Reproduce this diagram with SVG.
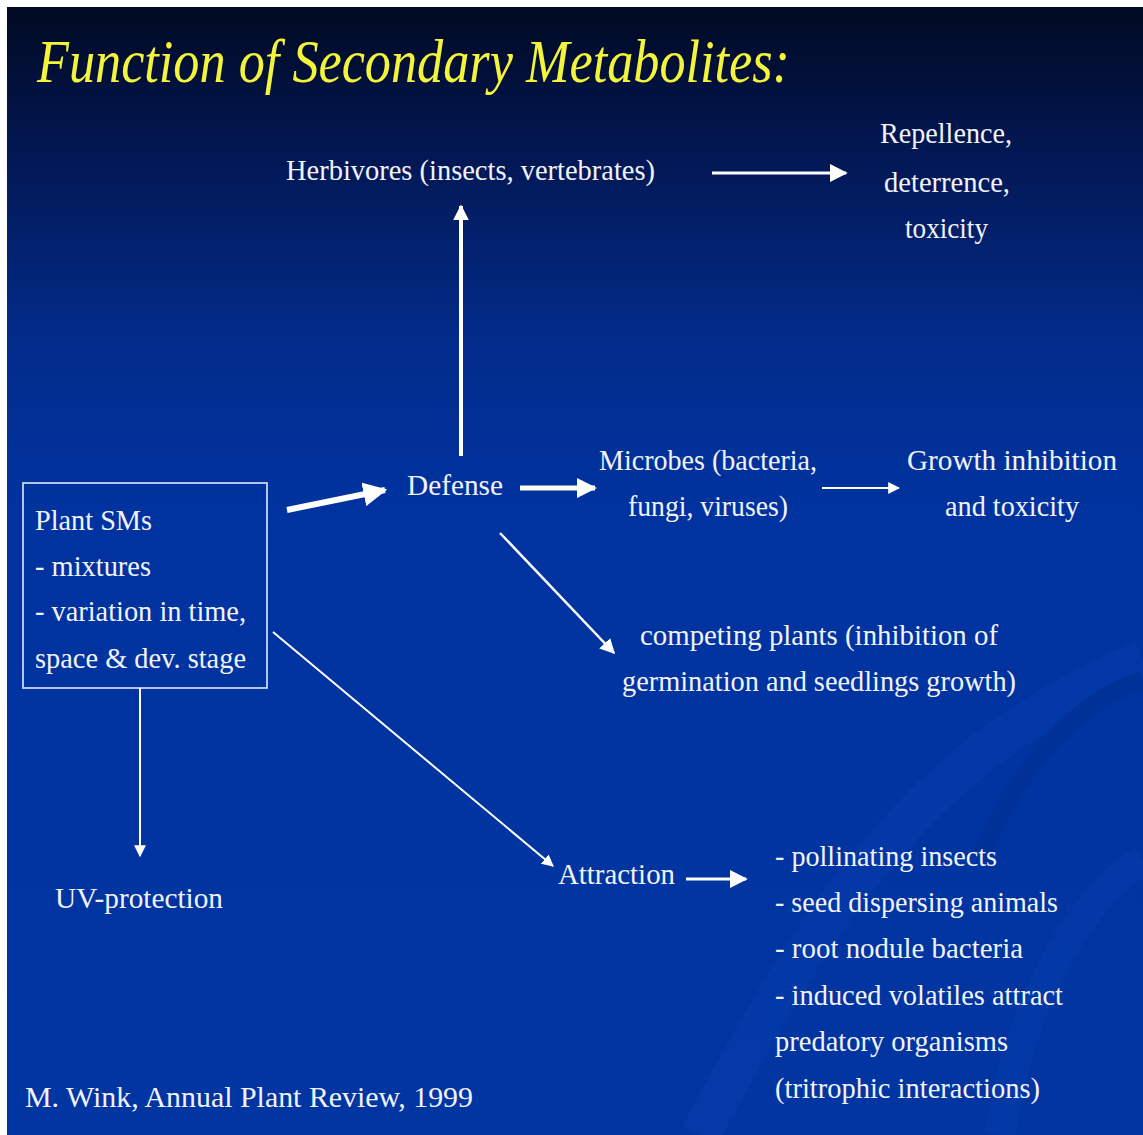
<svg xmlns="http://www.w3.org/2000/svg" width="1143" height="1135" viewBox="0 0 1143 1135">
<defs>
<linearGradient id="bg" x1="0" y1="0" x2="0" y2="1">
<stop offset="0" stop-color="#010a22"/>
<stop offset="0.12" stop-color="#021650"/>
<stop offset="0.3" stop-color="#022c8c"/>
<stop offset="0.45" stop-color="#0033a0"/>
<stop offset="1" stop-color="#0035a2"/>
</linearGradient>
<marker id="ah" viewBox="0 0 10 10" refX="9" refY="5" markerWidth="4" markerHeight="4" orient="auto" markerUnits="strokeWidth">
<path d="M0,0 L10,5 L0,10 z" fill="#ffffff"/>
</marker>
<marker id="ahs" viewBox="0 0 10 10" refX="9" refY="5" markerWidth="6" markerHeight="6" orient="auto" markerUnits="strokeWidth">
<path d="M0,0 L10,5 L0,10 z" fill="#ffffff"/>
</marker>
</defs>
<style>
.t{font-family:"Liberation Serif",serif;font-size:30px;fill:#f2f2fa;}
.c{fill:none;stroke:#ffffff;stroke-linecap:butt;}
</style>
<rect x="0" y="0" width="1143" height="1135" fill="#ffffff"/>
<rect x="7" y="7" width="1136" height="1128" fill="url(#bg)"/>
<g opacity="0.15" fill="none">
<path d="M700,1135 C800,950 900,760 1143,660" stroke="#1a4fc8" stroke-width="40"/>
<path d="M980,860 C1020,760 1080,700 1143,680" stroke="#00226e" stroke-width="18"/>
<path d="M1000,1135 C1020,1000 1080,900 1143,860" stroke="#1a4fc8" stroke-width="30"/>
</g>
<text x="37" y="82" font-family="'Liberation Serif',serif" font-style="italic" font-size="62" fill="#f4f43a" textLength="753" lengthAdjust="spacingAndGlyphs">Function of Secondary Metabolites:</text>
<g id="plant">
<rect x="23" y="483" width="244" height="205" fill="none" stroke="#c8d4f0" stroke-width="1.8"/>
<text class="t" x="35" y="530" textLength="117" lengthAdjust="spacingAndGlyphs">Plant SMs</text>
<text class="t" x="35" y="576" textLength="116" lengthAdjust="spacingAndGlyphs">- mixtures</text>
<text class="t" x="35" y="621" textLength="211" lengthAdjust="spacingAndGlyphs">- variation in time,</text>
<text class="t" x="35" y="668" textLength="211" lengthAdjust="spacingAndGlyphs">space &amp; dev. stage</text>
</g>
<g id="herbivores"><text class="t" x="286" y="180" textLength="369" lengthAdjust="spacingAndGlyphs">Herbivores (insects, vertebrates)</text></g>
<g id="repellence">
<text class="t" x="880" y="143" textLength="132" lengthAdjust="spacingAndGlyphs">Repellence,</text>
<text class="t" x="884" y="192" textLength="126" lengthAdjust="spacingAndGlyphs">deterrence,</text>
<text class="t" x="905" y="238" textLength="83" lengthAdjust="spacingAndGlyphs">toxicity</text>
</g>
<g id="defense"><text class="t" x="407" y="495" textLength="96" lengthAdjust="spacingAndGlyphs">Defense</text></g>
<g id="microbes">
<text class="t" x="599" y="470" textLength="218" lengthAdjust="spacingAndGlyphs">Microbes (bacteria,</text>
<text class="t" x="628" y="516" textLength="160" lengthAdjust="spacingAndGlyphs">fungi, viruses)</text>
</g>
<g id="growth">
<text class="t" x="907" y="470" textLength="210" lengthAdjust="spacingAndGlyphs">Growth inhibition</text>
<text class="t" x="945" y="516" textLength="134" lengthAdjust="spacingAndGlyphs">and toxicity</text>
</g>
<g id="competing">
<text class="t" x="640" y="645" textLength="358" lengthAdjust="spacingAndGlyphs">competing plants (inhibition of</text>
<text class="t" x="622" y="691" textLength="394" lengthAdjust="spacingAndGlyphs">germination and seedlings growth)</text>
</g>
<g id="attraction"><text class="t" x="558" y="884" textLength="117" lengthAdjust="spacingAndGlyphs">Attraction</text></g>
<g id="uv"><text class="t" x="55" y="908" textLength="168" lengthAdjust="spacingAndGlyphs">UV-protection</text></g>
<g id="attracted">
<text class="t" x="775" y="866" textLength="222" lengthAdjust="spacingAndGlyphs">- pollinating insects</text>
<text class="t" x="775" y="912" textLength="283" lengthAdjust="spacingAndGlyphs">- seed dispersing animals</text>
<text class="t" x="775" y="958" textLength="248" lengthAdjust="spacingAndGlyphs">- root nodule bacteria</text>
<text class="t" x="775" y="1005" textLength="288" lengthAdjust="spacingAndGlyphs">- induced volatiles attract</text>
<text class="t" x="775" y="1051" textLength="233" lengthAdjust="spacingAndGlyphs">predatory organisms</text>
<text class="t" x="775" y="1098" textLength="265" lengthAdjust="spacingAndGlyphs">(tritrophic interactions)</text>
</g>
<g id="citation"><text x="25" y="1107" font-family="'Liberation Serif',serif" font-size="30" fill="#f2f2fa" textLength="448" lengthAdjust="spacingAndGlyphs">M. Wink, Annual Plant Review, 1999</text></g>
<g id="connectors">
<line class="c" x1="287" y1="510" x2="385" y2="490" stroke-width="6" marker-end="url(#ah)"/>
<line class="c" x1="520" y1="488" x2="595" y2="488" stroke-width="5" marker-end="url(#ah)"/>
<line class="c" x1="461" y1="456" x2="461" y2="206" stroke-width="4" marker-end="url(#ah)"/>
<line class="c" x1="712" y1="173" x2="846" y2="173" stroke-width="3" marker-end="url(#ahs)"/>
<line class="c" x1="822" y1="488" x2="899" y2="488" stroke-width="2" marker-end="url(#ahs)"/>
<line class="c" x1="500" y1="533" x2="614" y2="653" stroke-width="2.5" marker-end="url(#ahs)"/>
<line class="c" x1="273" y1="632" x2="553" y2="866" stroke-width="2" marker-end="url(#ahs)"/>
<line class="c" x1="686" y1="879" x2="746" y2="879" stroke-width="3" marker-end="url(#ahs)"/>
<line class="c" x1="140" y1="688" x2="140" y2="856" stroke-width="2" marker-end="url(#ahs)"/>
</g>
</svg>
